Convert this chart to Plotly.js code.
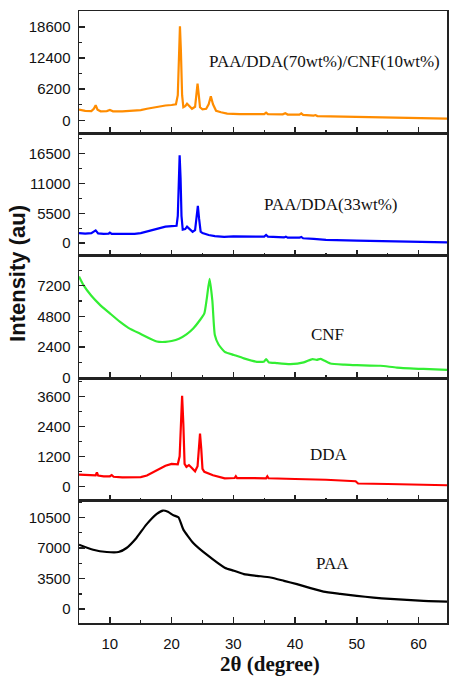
<!DOCTYPE html>
<html>
<head>
<meta charset="utf-8">
<script src="https://cdn.plot.ly/plotly-3.0.1.min.js"></script>
<style>
html,body{margin:0;padding:0;background:#fff;}
#chart{width:449px;height:676px;}
</style>
</head>
<body>
<div id="chart"></div>
<script>
// ---------- DATA ----------
const seriesNames = ["PAA/DDA(70wt%)/CNF(10wt%)", "PAA/DDA(33wt%)", "CNF", "DDA", "PAA"];

const x1 = [5,6,7,7.4,7.7,8.0,8.5,9.5,10.0,10.5,12,13,14,15,16,17,18,19,20,20.7,21.0,21.2,21.35,21.5,21.7,21.9,22.2,22.5,22.8,23.3,23.8,24.0,24.2,24.4,24.6,25.0,25.6,26.0,26.35,26.7,27.2,28,29,31,33,35,35.3,35.6,38,38.4,38.8,40.7,41.0,41.3,43.0,43.3,43.6,46,50,55,60,64.6];
const y1 = [2150,1900,1850,2300,3000,2100,1800,1850,2050,1800,1800,1850,1950,2050,2300,2550,2800,2950,3050,3200,5000,14000,18700,14000,5000,2600,2800,3300,2900,2300,2700,5000,7300,5000,2600,2200,2300,3200,4800,3200,1900,1600,1350,1250,1200,1250,1550,1250,1200,1420,1150,1150,1400,1100,950,1050,850,780,650,550,450,350];

const x2 = [5,6,7,7.4,7.7,8.1,9,9.8,10.0,10.3,12,14,15,16,17,18,19,20,20.8,21.0,21.15,21.3,21.45,21.6,21.8,22.2,22.5,22.8,23.4,23.8,24.05,24.25,24.45,24.7,25.0,26,27,28.5,30,32,35,35.3,35.6,38.2,38.5,38.8,40.7,41.0,41.3,43,45,50,55,60,64.6];
const y2 = [1830,1750,1850,2200,2350,1800,1700,1750,1950,1700,1650,1700,1850,2150,2550,2850,3050,3150,3200,5000,12000,16200,12000,5000,2500,2600,3050,2700,2100,2400,4500,6850,4500,2100,1850,1500,1300,1150,1250,1200,1200,1500,1200,1050,1200,1000,1000,1150,900,800,600,450,300,200,150];

const x3 = [5,5.7,7,8.4,10,11.6,13,15,17.6,19,20,21.2,22.4,23.5,24.6,25.3,25.7,26.15,26.6,27.0,27.6,28.6,30.1,31.7,33.8,35.0,35.3,35.7,37,39.2,41.4,42.8,43.5,44.1,44.6,45.7,48,50,53.8,56.5,60.8,64.6];
const y3 = [7900,7250,6400,5690,5030,4380,3900,3420,2830,2800,2870,3050,3390,3850,4510,5030,6200,7720,6000,3340,2600,2030,1780,1520,1250,1280,1460,1220,1150,1070,1200,1460,1400,1480,1380,1120,1030,990,940,800,690,620];

const x4 = [5,6,7,7.7,7.9,8.1,9,10.0,10.3,10.6,12,14,15,16,17,18,19,20,21.0,21.3,21.5,21.7,21.9,22.1,22.4,22.8,23.2,23.8,24.2,24.4,24.6,24.8,25.0,25.3,26.7,28.6,30.2,30.4,30.6,33,35.3,35.5,35.7,40,45,49.8,50.2,55,60,64.6];
const y4 = [470,450,440,440,560,430,400,400,450,380,360,350,370,430,560,700,820,900,880,1200,2500,3630,2500,900,780,850,750,600,800,1500,2110,1500,700,580,440,320,330,400,330,330,320,400,320,290,260,200,110,90,60,40];

const x5 = [5,7.3,9.5,11.4,12.7,14.3,15.9,17.6,18.6,19.4,20.3,21.1,21.9,23.5,25.7,28.6,30.1,31.7,33.8,36.0,38.2,40.3,42.5,44.6,47.3,50,52.7,55.4,58.1,60.8,64.6];
const y5 = [7380,6800,6540,6540,7000,8150,9670,10900,11280,11130,10740,10510,9100,7570,6230,4750,4400,4020,3820,3630,3250,2870,2410,2020,1760,1530,1330,1180,1070,950,870];

const yTicks1 = [0,6200,12400,18600];
const yTicks2 = [0,5500,11000,16500];
const yTicks3 = [0,2400,4800,7200];
const yTicks4 = [0,1200,2400,3600];
const yTicks5 = [0,3500,7000,10500];
const xTicks = [10,20,30,40,50,60];

// ---------- STYLE / LAYOUT ----------
const colors = ['#FF8C00','#0000FF','#33EE33','#FF0000','#000000'];
const xs = [x1,x2,x3,x4,x5];
const ys = [y1,y2,y3,y4,y5];
const shapes = ['linear','linear','spline','linear','spline'];
const yRanges = [[-2600,21760],[-2330,20220],[-30,9520],[-576,4337],[-1572,12416]];
const yTickSets = [yTicks1,yTicks2,yTicks3,yTicks4,yTicks5];
const domains = [[0.8,1],[0.6,0.8],[0.4,0.6],[0.2,0.4],[0,0.2]];

const traces = [];
const layout = {
  width:449, height:676,
  margin:{l:79, r:2, t:11, b:53},
  paper_bgcolor:'#fff', plot_bgcolor:'#fff',
  showlegend:false,
  font:{family:'Liberation Sans, Arial, sans-serif', size:15, color:'#000'},
  annotations:[], shapes:[]
};

const annPos = [[0.667,0.9167],[0.685,0.6846],[0.6766,0.4722],[0.6793,0.2761],[0.6875,0.098]];

for (let i=0;i<5;i++){
  const n = i===0 ? '' : String(i+1);
  traces.push({
    x: xs[i], y: ys[i], type:'scatter', mode:'lines',
    line:{color:colors[i], width:2.2, shape:shapes[i], smoothing:0.5},
    xaxis:'x'+n, yaxis:'y'+n, hoverinfo:'skip'
  });
  const yt = yTickSets[i];
  const step = yt[1]-yt[0];
  layout['yaxis'+n] = {
    domain: domains[i], range: yRanges[i], anchor:'x'+n,
    tickmode:'array', tickvals: yt, ticktext: yt.map(v=>String(v)),
    ticks:'inside', ticklen:6, tickwidth:1.5, tickcolor:'#222',
    minor:{tick0:step/2, dtick:step, ticks:'inside', ticklen:3, tickwidth:1.2, tickcolor:'#222', showgrid:false},
    showline:true, linecolor:'#222', linewidth:1.5, mirror:true,
    showgrid:false, zeroline:false, ticklabelstandoff:4,
    tickfont:{family:'Liberation Sans, Arial, sans-serif', size:15, color:'#111'}
  };
  layout['xaxis'+n] = {
    range:[5,64.6], anchor:'y'+n, matches: i===0 ? undefined : 'x',
    tickmode:'array', tickvals: xTicks, ticktext: xTicks.map(v=>String(v)),
    showticklabels: i===4,
    ticks:'inside', ticklen:6, tickwidth:1.5, tickcolor:'#222',
    minor:{tick0:5, dtick:10, ticks:'inside', ticklen:3, tickwidth:1.2, tickcolor:'#222', showgrid:false},
    showline:true, linecolor:'#222', linewidth:1.5, mirror:true,
    showgrid:false, zeroline:false, ticklabelstandoff:6,
    tickfont:{family:'Liberation Sans, Arial, sans-serif', size:15, color:'#111'}
  };
  layout.annotations.push({
    xref:'paper', yref:'paper', x:annPos[i][0], y:annPos[i][1],
    text: seriesNames[i], showarrow:false, xanchor:'center', yanchor:'middle',
    font:{family:'Liberation Serif, Times New Roman, serif', size:17, color:'#111'}
  });
}

layout.annotations.push({
  xref:'paper', yref:'paper', x:-0.1658, y:0.572, textangle:-90,
  text:'<b>Intensity (au)</b>', showarrow:false, xanchor:'center', yanchor:'middle',
  font:{family:'Liberation Sans, Arial, sans-serif', size:22, color:'#111'}
});
layout.annotations.push({
  xref:'paper', yref:'paper', x:0.519, y:-0.067,
  text:'<b>2θ (degree)</b>', showarrow:false, xanchor:'center', yanchor:'middle',
  font:{family:'Liberation Serif, Times New Roman, serif', size:21, color:'#111'}
});

Plotly.newPlot('chart', traces, layout, {displayModeBar:false, staticPlot:true});
</script>
</body>
</html>
